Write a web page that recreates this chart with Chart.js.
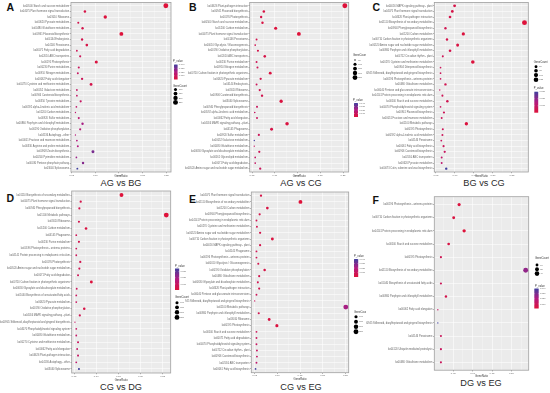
<!DOCTYPE html>
<html><head><meta charset="utf-8">
<script src="https://cdn.jsdelivr.net/npm/chart.js@4.4.0/dist/chart.umd.min.js"></script>
<style>
html,body{margin:0;padding:0;background:#fff}
body{width:550px;height:393px;overflow:hidden;position:relative;font-family:"Liberation Sans",Arial,sans-serif}
canvas{position:absolute}
.t{position:absolute;font-size:9.2px;line-height:10px;color:#2a2a2a;transform:translate(-50%,-50%);white-space:nowrap}
.l{position:absolute;font-weight:bold;font-size:10.5px;line-height:11px;color:#111}
</style></head><body>
<div class="l" style="left:6.5px;top:2.3px">A</div>
<div class="l" style="left:189px;top:2.3px">B</div>
<div class="l" style="left:372.5px;top:2.3px">C</div>
<div class="l" style="left:6.5px;top:192.8px">D</div>
<div class="l" style="left:189px;top:193.8px">E</div>
<div class="l" style="left:372.5px;top:194.8px">F</div>
<div class="t" style="left:121px;top:183px">AG vs BG</div>
<div class="t" style="left:301px;top:183px">AG vs CG</div>
<div class="t" style="left:484px;top:183px">BG vs CG</div>
<div class="t" style="left:121px;top:387px">CG vs DG</div>
<div class="t" style="left:301px;top:387px">CG vs EG</div>
<div class="t" style="left:481px;top:383px">DG vs EG</div>
<script>
// ---------------- DATA ----------------
const catsA = ["ko00500 Starch and sucrose metabolism","ko04075 Plant hormone signal transduction","ko03010 Ribosome","ko00620 Pyruvate metabolism","ko00480 Glutathione metabolism","ko00941 Flavonoid biosynthesis","ko04144 Endocytosis","ko04146 Peroxisome","ko00071 Fatty acid degradation","ko02010 ABC transporters","ko00195 Photosynthesis","ko00230 Purine metabolism","ko00910 Nitrogen metabolism","ko00062 Fatty acid elongation","ko00270 Cysteine and methionine metabolism","ko00052 Galactose metabolism","ko00906 Carotenoid biosynthesis","ko00350 Tyrosine metabolism","ko00592 alpha-Linolenic acid metabolism","ko01200 Carbon metabolism","ko00920 Sulfur metabolism","ko00860 Porphyrin and chlorophyll metabolism","ko00190 Oxidative phosphorylation","ko04136 Autophagy - other","ko00051 Fructose and mannose metabolism","ko00330 Arginine and proline metabolism","ko00908 Zeatin biosynthesis","ko00240 Pyrimidine metabolism","ko00030 Pentose phosphate pathway","ko03040 Spliceosome"];
const ratioA = [0.249,0.078,0.121,0.064,0.073,0.155,0.072,0.082,0.061,0.068,0.102,0.065,0.063,0.072,0.091,0.061,0.061,0.069,0.060,0.058,0.065,0.073,0.068,0.058,0.061,0.063,0.095,0.060,0.074,0.062];
const countA = [250,78,121,64,73,155,72,82,61,68,102,65,63,72,91,61,61,69,60,58,65,73,68,58,61,63,95,60,74,62];
const pA = [0.0002,0.004,0.001,0.006,0.005,0.0004,0.006,0.004,0.008,0.009,0.002,0.010,0.011,0.009,0.005,0.012,0.013,0.011,0.014,0.015,0.016,0.022,0.017,0.018,0.019,0.020,0.030,0.024,0.028,0.040];
const xTicksA = [0.05,0.10,0.15,0.20,0.25];
const pTicksA = [0.01,0.02,0.03,0.04];
const sizeBreaksA = [100,150,200,250];

const catsB = ["ko04626 Plant-pathogen interaction","ko00941 Flavonoid biosynthesis","ko00195 Photosynthesis","ko00500 Starch and sucrose metabolism","ko01200 Carbon metabolism","ko04075 Plant hormone signal transduction","ko04146 Peroxisome","ko00010 Glycolysis / Gluconeogenesis","ko00190 Oxidative phosphorylation","ko02010 ABC transporters","ko00230 Purine metabolism","ko00910 Nitrogen metabolism","ko00710 Carbon fixation in photosynthetic organisms","ko00620 Pyruvate metabolism","ko04144 Endocytosis","ko03010 Ribosome","ko00906 Carotenoid biosynthesis","ko03040 Spliceosome","ko00940 Phenylpropanoid biosynthesis","ko00592 alpha-Linolenic acid metabolism","ko00062 Fatty acid elongation","ko04016 MAPK signaling pathway - plant","ko04145 Phagosome","ko00920 Sulfur metabolism","ko00052 Galactose metabolism","ko00480 Glutathione metabolism","ko00630 Glyoxylate and dicarboxylate metabolism","ko00561 Glycerolipid metabolism","ko00071 Fatty acid degradation","ko00520 Amino sugar and nucleotide sugar metabolism"];
const ratioB = [0.254,0.076,0.070,0.073,0.102,0.153,0.060,0.057,0.063,0.078,0.060,0.062,0.090,0.069,0.060,0.067,0.072,0.114,0.061,0.056,0.061,0.127,0.093,0.065,0.055,0.055,0.066,0.057,0.057,0.068];
const countB = [254,76,70,73,102,153,60,57,63,78,60,62,90,69,60,67,72,114,61,56,61,127,93,65,55,55,66,57,57,68];
const pB = [0.0001,0.003,0.004,0.003,0.001,0.0002,0.006,0.007,0.005,0.004,0.008,0.008,0.002,0.006,0.009,0.007,0.006,0.002,0.010,0.011,0.010,0.002,0.004,0.009,0.040,0.011,0.008,0.012,0.012,0.010];
const xTicksB = [0.05,0.10,0.15,0.20,0.25];
const pTicksB = [0.01,0.02,0.03,0.04];
const sizeBreaksB = [50,100,150,200,250];

const catsC = ["ko04016 MAPK signaling pathway - plant","ko04075 Plant hormone signal transduction","ko04626 Plant-pathogen interaction","ko01110 Biosynthesis of secondary metabolites","ko00940 Phenylpropanoid biosynthesis","ko01200 Carbon metabolism","ko00710 Carbon fixation in photosynthetic organisms","ko00520 Amino sugar and nucleotide sugar metabolism","ko00860 Porphyrin and chlorophyll metabolism","ko04712 Circadian rhythm - plant","ko00270 Cysteine and methionine metabolism","ko00904 Diterpenoid biosynthesis","ko00945 Stilbenoid, diarylheptanoid and gingerol biosynthesis","ko00196 Photosynthesis - antenna proteins","ko00480 Glutathione metabolism","ko00040 Pentose and glucuronate interconversions","ko04141 Protein processing in endoplasmic reticulum","ko00500 Starch and sucrose metabolism","ko04070 Phosphatidylinositol signaling system","ko00941 Flavonoid biosynthesis","ko00051 Fructose and mannose metabolism","ko01100 Metabolic pathways","ko00195 Photosynthesis","ko00592 alpha-Linolenic acid metabolism","ko04146 Peroxisome","ko00061 Fatty acid biosynthesis","ko00906 Carotenoid biosynthesis","ko02010 ABC transporters","ko00620 Pyruvate metabolism","ko00073 Cutin, suberine and wax biosynthesis"];
const ratioC = [0.099,0.093,0.087,0.283,0.075,0.122,0.079,0.107,0.087,0.068,0.147,0.062,0.062,0.062,0.075,0.060,0.067,0.080,0.062,0.071,0.065,0.130,0.068,0.067,0.064,0.070,0.073,0.065,0.065,0.077];
const countC = [50,47,44,142,38,61,40,54,44,34,74,31,31,31,38,30,34,40,31,36,33,65,34,34,32,35,37,33,33,39];
const pC = [0.003,0.003,0.004,0.0001,0.005,0.001,0.004,0.002,0.004,0.006,0.0008,0.007,0.007,0.008,0.005,0.009,0.006,0.005,0.008,0.006,0.007,0.001,0.006,0.007,0.008,0.007,0.008,0.010,0.011,0.030];
const xTicksC = [0.05,0.10,0.15,0.20,0.25];
const pTicksC = [0.01,0.02,0.03];
const sizeBreaksC = [50,75,100,125];

const catsD = ["ko01110 Biosynthesis of secondary metabolites","ko04075 Plant hormone signal transduction","ko00940 Phenylpropanoid biosynthesis","ko01100 Metabolic pathways","ko03010 Ribosome","ko01200 Carbon metabolism","ko04145 Phagosome","ko00230 Purine metabolism","ko00196 Photosynthesis - antenna proteins","ko04141 Protein processing in endoplasmic reticulum","ko00195 Photosynthesis","ko00520 Amino sugar and nucleotide sugar metabolism","ko00071 Fatty acid degradation","ko00710 Carbon fixation in photosynthetic organisms","ko00630 Glyoxylate and dicarboxylate metabolism","ko01040 Biosynthesis of unsaturated fatty acids","ko00620 Pyruvate metabolism","ko00190 Oxidative phosphorylation","ko04016 MAPK signaling pathway - plant","ko00945 Stilbenoid, diarylheptanoid and gingerol biosynthesis","ko04070 Phosphatidylinositol signaling system","ko00480 Glutathione metabolism","ko00270 Cysteine and methionine metabolism","ko00062 Fatty acid elongation","ko04626 Plant-pathogen interaction","ko04136 Autophagy - other","ko03040 Spliceosome"];
const ratioD = [0.157,0.065,0.062,0.258,0.061,0.077,0.055,0.061,0.055,0.055,0.064,0.062,0.059,0.089,0.056,0.055,0.055,0.073,0.063,0.052,0.055,0.055,0.059,0.057,0.059,0.055,0.061];
const countD = [157,65,62,258,61,77,55,61,55,55,64,62,59,89,56,55,55,73,63,52,55,55,59,57,59,55,61];
const pD = [0.0002,0.004,0.005,0.0001,0.005,0.002,0.007,0.005,0.008,0.008,0.005,0.006,0.007,0.001,0.008,0.009,0.009,0.003,0.006,0.010,0.010,0.011,0.009,0.011,0.010,0.012,0.035];
const xTicksD = [0.05,0.10,0.15,0.20,0.25];
const pTicksD = [0.01,0.02,0.03];
const sizeBreaksD = [100,150,200,250];

const catsE = ["ko04075 Plant hormone signal transduction","ko01110 Biosynthesis of secondary metabolites","ko01200 Carbon metabolism","ko00940 Phenylpropanoid biosynthesis","ko04141 Protein processing in endoplasmic reticulum","ko00270 Cysteine and methionine metabolism","ko00520 Amino sugar and nucleotide sugar metabolism","ko00710 Carbon fixation in photosynthetic organisms","ko04016 MAPK signaling pathway - plant","ko04145 Phagosome","ko00196 Photosynthesis - antenna proteins","ko00010 Glycolysis / Gluconeogenesis","ko00190 Oxidative phosphorylation","ko00480 Glutathione metabolism","ko00630 Glyoxylate and dicarboxylate metabolism","ko04626 Plant-pathogen interaction","ko00040 Pentose and glucuronate interconversions","ko00945 Stilbenoid, diarylheptanoid and gingerol biosynthesis","ko01100 Metabolic pathways","ko00860 Porphyrin and chlorophyll metabolism","ko03010 Ribosome","ko00195 Photosynthesis","ko00500 Starch and sucrose metabolism","ko00071 Fatty acid degradation","ko04070 Phosphatidylinositol signaling system","ko04712 Circadian rhythm - plant","ko00906 Carotenoid biosynthesis","ko02010 ABC transporters","ko00061 Fatty acid biosynthesis"];
const ratioE = [0.064,0.151,0.078,0.061,0.054,0.055,0.062,0.089,0.062,0.054,0.054,0.058,0.072,0.060,0.057,0.060,0.054,0.050,0.251,0.059,0.082,0.099,0.054,0.054,0.054,0.055,0.055,0.054,0.052];
const countE = [64,151,78,61,54,55,62,89,62,54,54,58,72,60,57,60,54,50,251,59,82,99,54,54,54,55,55,54,52];
const pE = [0.004,0.0002,0.003,0.005,0.007,0.007,0.005,0.002,0.005,0.008,0.008,0.006,0.004,0.006,0.007,0.006,0.009,0.010,0.022,0.007,0.003,0.002,0.009,0.010,0.011,0.011,0.012,0.014,0.040];
const xTicksE = [0.05,0.10,0.15,0.20,0.25];
const pTicksE = [0.01,0.02,0.03,0.04];
const sizeBreaksE = [100,150,200,250];

const catsF = ["ko00196 Photosynthesis - antenna proteins","ko00710 Carbon fixation in photosynthetic organisms","ko04141 Protein processing in endoplasmic reticulum","ko00500 Starch and sucrose metabolism","ko00195 Photosynthesis","ko01110 Biosynthesis of secondary metabolites","ko01040 Biosynthesis of unsaturated fatty acids","ko00860 Porphyrin and chlorophyll metabolism","ko00062 Fatty acid elongation","ko00945 Stilbenoid, diarylheptanoid and gingerol biosynthesis","ko04146 Peroxisome","ko04120 Ubiquitin mediated proteolysis","ko00480 Glutathione metabolism"];
const ratioF = [0.065,0.051,0.078,0.038,0.018,0.237,0.018,0.031,0.010,0.010,0.018,0.018,0.018];
const countF = [13,10,16,8,4,47,4,6,2,2,4,4,4];
const pF = [0.002,0.003,0.001,0.004,0.008,0.026,0.009,0.006,0.012,0.040,0.010,0.011,0.010];
const xTicksF = [0.05,0.10,0.15,0.20];
const pTicksF = [0.01,0.02,0.03,0.04];
const sizeBreaksF = [10,25,40];

// ---------------- STYLE / LAYOUT ----------------
const FONT = '"Liberation Sans", Arial, sans-serif';
const LOW=[222,18,58], MID=[178,26,128], HIGH=[64,64,158];
const R_MIN=0.7, R_MAX=2.45;
const rgb=a=>`rgb(${a.map(Math.round).join(',')})`;
function pColor(t){
  t=Math.max(0,Math.min(1,t));
  let a,b,u; if(t<0.5){a=LOW;b=MID;u=t/0.5}else{a=MID;b=HIGH;u=(t-0.5)/0.5}
  return rgb(a.map((v,i)=>v+(b[i]-v)*u));
}
function radius(c,cmin,cmax){const t=Math.max(0,Math.min(1,(c-cmin)/(cmax-cmin)));return R_MIN+(R_MAX-R_MIN)*Math.sqrt(t);}

const panels = [
 {id:'A',cats:catsA,ratio:ratioA,count:countA,p:pA,xt:xTicksA,pt:pTicksA,sb:sizeBreaksA,xMin:0.0486,xMax:0.2599,
  cv:{left:0,top:0,w:190,h:180},plot:{l:71,r:171,t:2.3,b:172},titlePad:1.8,
  lg:{x0:173,pTitleY:61.7,bar:[174,64.5,3.6,15],sTitleY:86,dotX:175.5,dotsY:[89.5,93.6,97.9,102.4]}},
 {id:'B',cats:catsB,ratio:ratioB,count:countB,p:pB,xt:xTicksB,pt:pTicksB,sb:sizeBreaksB,xMin:0.0449,xMax:0.2625,
  cv:{left:185,top:0,w:181,h:180},plot:{l:249.7,r:348.7,t:2.3,b:172},titlePad:1.8,
  lg:{x0:353,sTitleY:55.7,dotX:355,dotsY:[60,64.3,68.6,73,77.6],pTitleY:100,bar:[354,103,4,14]}},
 {id:'C',cats:catsC,ratio:ratioC,count:countC,p:pC,xt:xTicksC,pt:pTicksC,sb:sizeBreaksC,xMin:0.0456,xMax:0.293,
  cv:{left:366,top:0,w:184,h:180},plot:{l:434.3,r:528.3,t:2.3,b:172},titlePad:1.8,
  lg:{x0:533.7,sTitleY:62.7,dotX:536,dotsY:[66.7,70.8,75.1,79.8],pTitleY:88,bar:[534.3,91.7,3.9,21]}},
 {id:'D',cats:catsD,ratio:ratioD,count:countD,p:pD,xt:xTicksD,pt:pTicksD,sb:sizeBreaksD,xMin:0.0447,xMax:0.268,
  cv:{left:0,top:188,w:190,h:195},plot:{l:71.7,r:170.7,t:191,b:373},titlePad:1.3,
  lg:{x0:175,pTitleY:266,bar:[175,268.5,4.2,21.5],sTitleY:297,dotX:177,dotsY:[302.7,307.3,312.3,317.4]}},
 {id:'E',cats:catsE,ratio:ratioE,count:countE,p:pE,xt:xTicksE,pt:pTicksE,sb:sizeBreaksE,xMin:0.0426,xMax:0.2574,
  cv:{left:185,top:188,w:181,h:195},plot:{l:251.3,r:348.7,t:192,b:372.7},titlePad:2.3,
  lg:{x0:354,pTitleY:256,bar:[354,259,4.2,18],sTitleY:312.7,dotX:356,dotsY:[316.7,321.8,326.7,331.8]}},
 {id:'F',cats:catsF,ratio:ratioF,count:countF,p:pF,xt:xTicksF,pt:pTicksF,sb:sizeBreaksF,xMin:0.0009,xMax:0.2448,
  cv:{left:366,top:188,w:184,h:195},plot:{l:434.3,r:528.7,t:196.7,b:370.2},titlePad:5.3,
  lg:{x0:535,sTitleY:258.3,dotX:537,dotsY:[265,269.3,273.6],pTitleY:286.7,bar:[534.3,288.5,4.4,20]}}
];

const bgPlugin = {
  id:'bg',
  beforeDraw(chart){const a=chart.chartArea,c=chart.ctx;c.save();c.fillStyle='#EBEBEB';c.fillRect(a.left,a.top,a.right-a.left,a.bottom-a.top);c.restore();},
  beforeDatasetsDraw(chart){const a=chart.chartArea,c=chart.ctx;c.save();c.strokeStyle='#a0a0a0';c.lineWidth=0.8;c.strokeRect(a.left,a.top,a.right-a.left,a.bottom-a.top);c.restore();}
};

function makeLegend(P,pmin,pmax,cmin,cmax){
  return {id:'lg'+P.id, afterDraw(chart){
    const ctx=chart.ctx, ox=P.cv.left, oy=P.cv.top, L=P.lg;
    ctx.save();
    ctx.font='2.7px '+FONT; ctx.textBaseline='middle'; ctx.textAlign='left';
    ctx.fillStyle='#333'; ctx.fillText('P_value',L.x0-ox,L.pTitleY-oy);
    const [bx,by,bw,bh]=L.bar;
    const g=ctx.createLinearGradient(0,by+bh-oy,0,by-oy);
    g.addColorStop(0,rgb(LOW));g.addColorStop(0.5,rgb(MID));g.addColorStop(1,rgb(HIGH));
    ctx.fillStyle=g; ctx.fillRect(bx-ox,by-oy,bw,bh);
    ctx.font='2.3px '+FONT; ctx.fillStyle='#666';
    P.pt.forEach(v=>{ if(v<pmin||v>pmax) return; const t=(v-pmin)/(pmax-pmin); const y=by+bh-t*bh;
      ctx.fillText(v.toFixed(3),bx+bw+1.2-ox,y-oy);
      ctx.strokeStyle='#fff';ctx.lineWidth=0.3;ctx.beginPath();ctx.moveTo(bx-ox,y-oy);ctx.lineTo(bx+0.8-ox,y-oy);ctx.moveTo(bx+bw-0.8-ox,y-oy);ctx.lineTo(bx+bw-ox,y-oy);ctx.stroke();});
    ctx.font='2.7px '+FONT; ctx.fillStyle='#333'; ctx.fillText('GeneCount',L.x0-ox,L.sTitleY-oy);
    ctx.font='2.3px '+FONT;
    P.sb.forEach((c,i)=>{const y=L.dotsY[i];const r=radius(c,cmin,cmax);
      ctx.fillStyle='#000';ctx.beginPath();ctx.arc(L.dotX-ox,y-oy,r,0,Math.PI*2);ctx.fill();
      ctx.fillStyle='#666';ctx.fillText(String(c),L.dotX+3.2-ox,y-oy);});
    ctx.restore();
  }};
}

panels.forEach(P=>{
  const cv=document.createElement('canvas');
  cv.width=P.cv.w; cv.height=P.cv.h;
  cv.style.left=P.cv.left+'px'; cv.style.top=P.cv.top+'px';
  cv.style.width=P.cv.w+'px'; cv.style.height=P.cv.h+'px';
  document.body.appendChild(cv);
  const n=P.cats.length;
  const pmin=Math.min(...P.p), pmax=Math.max(...P.p);
  const cmin=Math.min(...P.count), cmax=Math.max(...P.count);
  const step=P.xt[1]-P.xt[0];
  const minor=[]; for(let v=P.xt[0]-step/2; v<=P.xMax; v+=step){ if(v>=P.xMin) minor.push(+v.toFixed(6)); }
  const isMajor=v=>P.xt.some(t=>Math.abs(t-v)<1e-9);
  const yW=P.plot.l-P.cv.left, xH=P.cv.top+P.cv.h-P.plot.b;
  new Chart(cv,{
    type:'bubble',
    data:{datasets:[{
      data:P.cats.map((c,i)=>({x:P.ratio[i],y:i,r:radius(P.count[i],cmin,cmax)})),
      backgroundColor:P.p.map(v=>pColor((v-pmin)/(pmax-pmin))),
      borderWidth:0, hoverRadius:0
    }]},
    options:{
      responsive:false, animation:false, devicePixelRatio:1,
      layout:{padding:{left:0,bottom:0,top:P.plot.t-P.cv.top,right:P.cv.left+P.cv.w-P.plot.r}},
      plugins:{legend:{display:false},tooltip:{enabled:false}},
      events:[],
      scales:{
        x:{type:'linear',min:P.xMin,max:P.xMax,
          afterBuildTicks(s){s.ticks=[...P.xt,...minor].sort((a,b)=>a-b).map(v=>({value:v}));},
          afterFit(s){s.height=xH;},
          ticks:{autoSkip:false,maxRotation:0,padding:0.4,color:'#6a6a6a',font:{size:2.5,family:FONT},
            callback:v=>isMajor(v)?v.toFixed(2):''},
          grid:{color:'#ffffff',lineWidth:c=>isMajor(c.tick.value)?0.55:0.28,tickLength:1.2,
            tickColor:c=>isMajor(c.tick.value)?'#666':'rgba(0,0,0,0)'},
          border:{display:false},
          title:{display:true,text:'GeneRatio',color:'#333',font:{size:2.7,family:FONT},padding:{top:0,bottom:P.titlePad}}
        },
        y:{type:'linear',reverse:true,min:-0.6,max:n-0.4,
          afterBuildTicks(s){s.ticks=P.cats.map((c,i)=>({value:i}));},
          afterFit(s){s.width=yW;},
          ticks:{autoSkip:false,padding:0.7,color:'#666',font:{size:2.55,family:FONT},callback:v=>P.cats[v]},
          grid:{color:'#ffffff',lineWidth:0.55,tickLength:1.2,tickColor:'#666'},
          border:{display:false}
        }
      }
    },
    plugins:[bgPlugin,makeLegend(P,pmin,pmax,cmin,cmax)]
  });
});
</script>
</body></html>
